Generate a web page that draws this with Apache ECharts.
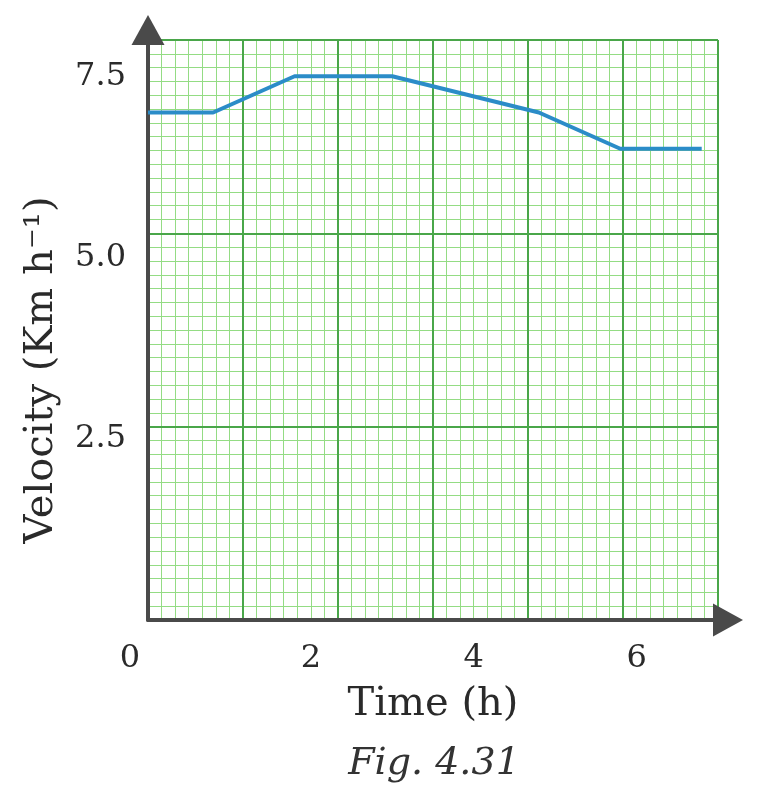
<!DOCTYPE html>
<html>
<head>
<meta charset="utf-8">
<script src="https://cdn.jsdelivr.net/npm/echarts@6/dist/echarts.min.js"></script>
<style>
  html, body { margin: 0; padding: 0; background: #fff; }
  #chart { width: 766px; height: 797px; }
</style>
</head>
<body>
<div id="chart"></div>
<script>
// time (h) and velocity (Km/h)
const timeValues = [0, 0.8, 1.8, 3, 4.8, 5.8, 6.8]
const velocityValues = [7, 7, 7.5, 7.5, 7, 6.5, 6.5]
const xTicks = [0, 2, 4, 6]
const yTicks = [2.5, 5.0, 7.5]

const axisColor = '#4a4a4a'
const majorGreen = '#4aa64a'
const minorGreen = '#94dc84'
const font = 'DejaVu Serif'

const chart = echarts.init(document.getElementById('chart'))

// hidden axis used only to draw the graph-paper lines
function paperAxis(max, color, width, z) {
  return {
    type: 'value', min: 0, max: max, interval: 1, z: z,
    axisLine: { show: false }, axisTick: { show: false }, axisLabel: { show: false },
    splitLine: { show: true, lineStyle: { color: color, width: width } }
  }
}

const option = {
  animation: false,
  backgroundColor: '#fff',
  grid: { left: 148, right: 48, top: 40, bottom: 177 },
  title: {
    text: 'Fig. 4.31',
    left: 429,
    textAlign: 'center',
    top: 740,
    textStyle: { fontFamily: font, fontStyle: 'italic', fontWeight: 'normal', fontSize: 38, color: '#333' }
  },
  xAxis: [
    {
      type: 'value', min: 0, max: 7, interval: 2, z: 3,
      name: 'Time (h)', nameLocation: 'middle', nameGap: 65,
      nameTextStyle: { fontFamily: font, fontSize: 40, color: '#2a2a2a' },
      axisLine: { show: true, lineStyle: { color: axisColor, width: 4 },
        symbol: ['none', 'triangle'], symbolSize: [33, 30], symbolOffset: [0, 10] },
      axisTick: { show: false },
      splitLine: { show: false },
      axisLabel: {
        margin: 23, fontFamily: font, fontSize: 32, color: '#2a2a2a',
        formatter: v => xTicks.includes(v) ? (v === 0 ? '{z|0}' : String(v)) : '',
        rich: { z: { fontFamily: font, fontSize: 32, color: '#2a2a2a', padding: [0, 36, 0, 0] } }
      }
    },
    paperAxis(42, minorGreen, 1, 1),
    paperAxis(6, majorGreen, 2, 2)
  ],
  yAxis: [
    {
      type: 'value', min: 0, max: 8, interval: 2.5, z: 3,
      name: 'Velocity (Km h\u207B\u00B9)', nameLocation: 'middle', nameGap: 86, nameRotate: 90,
      nameTextStyle: { fontFamily: font, fontSize: 40, color: '#2a2a2a', padding: [0, 80, 0, 0] },
      axisLine: { show: true, lineStyle: { color: axisColor, width: 4 },
        symbol: ['none', 'triangle'], symbolSize: [33, 30], symbolOffset: [0, 10] },
      axisTick: { show: false },
      splitLine: { show: false },
      axisLabel: {
        margin: 22, fontFamily: font, fontSize: 32, color: '#2a2a2a',
        formatter: v => yTicks.includes(v) ? v.toFixed(1) : ''
      }
    },
    paperAxis(42, minorGreen, 1, 1),
    paperAxis(3, majorGreen, 2, 2)
  ],
  series: [
    {
      type: 'line',
      xAxisIndex: 0,
      yAxisIndex: 0,
      z: 5,
      data: timeValues.map((t, i) => [t, velocityValues[i]]),
      showSymbol: false,
      symbol: 'none',
      lineStyle: { color: '#2b8cc8', width: 4 }
    }
  ]
}

chart.setOption(option)
</script>
</body>
</html>
